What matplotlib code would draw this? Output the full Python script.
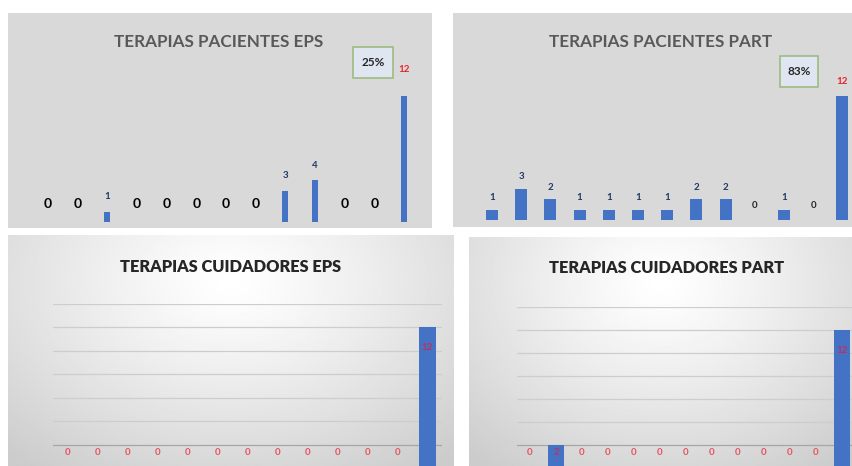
import numpy as np
import matplotlib
matplotlib.use("Agg")
import matplotlib.pyplot as plt
from matplotlib.patches import Rectangle

# Data
posiciones = list(range(13))
pacientes_eps = [0, 0, 1, 0, 0, 0, 0, 0, 3, 4, 0, 0, 12]
pacientes_part = [1, 3, 2, 1, 1, 1, 1, 2, 2, 0, 1, 0, 12]
cuidadores_eps = [0, 0, 0, 0, 0, 0, 0, 0, 0, 0, 0, 0, 12]
cuidadores_part = [0, 2, 0, 0, 0, 0, 0, 0, 0, 0, 0, 0, 12]
titulos = ["TERAPIAS PACIENTES EPS", "TERAPIAS PACIENTES PART",
           "TERAPIAS CUIDADORES EPS", "TERAPIAS CUIDADORES PART"]
porcentajes = ["25%", "83%"]

W, H = 853, 466
FONT = ["Lato", "DejaVu Sans"]
BLUE = "#4472c4"
NAVY = "#1f3864"

fig = plt.figure(figsize=(W / 100, H / 100), dpi=100)
fig.patch.set_facecolor("white")


def rect(x0, y0, x1, y1):
    # pixel box (top-left origin) -> figure fraction
    return [x0 / W, 1 - y1 / H, (x1 - x0) / W, (y1 - y0) / H]


def bg_axes(box, color=None, gradient=False):
    ax = fig.add_axes(rect(*box))
    ax.set_xlim(0, 1)
    ax.set_ylim(0, 1)
    ax.axis("off")
    if gradient:
        yy, xx = np.mgrid[0:1:200j, 0:1:300j]
        d = np.sqrt(((xx - 0.5) / 0.75) ** 2 + ((yy - 0.2) / 1.0) ** 2)
        g = 1.0 - 0.2 * np.clip(d, 0, 1) ** 1.2
        ax.imshow(g, cmap="gray", vmin=0, vmax=1, extent=[0, 1, 0, 1],
                  aspect="auto", origin="upper", zorder=0)
    else:
        ax.add_patch(Rectangle((0, 0), 1, 1, color=color, zorder=0))
    return ax


def data_axes(box, ylim):
    ax = fig.add_axes(rect(*box))
    ax.patch.set_alpha(0)
    ax.set_xlim(-0.5, 12.5)
    ax.set_ylim(*ylim)
    for s in ax.spines.values():
        s.set_visible(False)
    ax.set_xticks([])
    ax.set_yticks([])
    return ax


def pct_box(ax, x, y, w, h, text):
    ax.add_patch(Rectangle((x, y), w, h, facecolor="#dfe6f1",
                           edgecolor="#9fbb7f", linewidth=1.2, zorder=2))
    ax.text(x + w / 2, y + h / 2, text, ha="center", va="center",
            fontsize=8.5, fontweight="bold", color="#262626",
            family=FONT, zorder=3)


# ---- Panel 1: pacientes EPS ----
bg1 = bg_axes((8, 13, 432, 228), color="#d9d9d9")
bg1.text((219 - 8) / 424, 1 - 29 / 215, titulos[0], ha="center", va="center",
         fontsize=12.3, fontweight="bold", color="#595959", family=FONT)
pct_box(bg1, (353 - 8) / 424, 1 - (78 - 13) / 215, 40 / 424, 31 / 215,
        porcentajes[0])

ax1 = data_axes((33.2, 75, 418.8, 222), (0, 14))
ax1.bar(posiciones, pacientes_eps, width=0.2, color=BLUE)
for x, v in zip(posiciones, pacientes_eps):
    if v == 0:
        ax1.annotate("0", (x, 0), xytext=(0, 18), textcoords="offset pixels",
                     ha="center", va="center", fontsize=10,
                     fontweight="bold", color="black", family=FONT)
    elif v == max(pacientes_eps):
        ax1.annotate(str(v), (x, v), xytext=(0, 27),
                     textcoords="offset pixels", ha="center", va="center",
                     fontsize=7, fontweight="bold", color="#e8242b",
                     family=FONT)
    else:
        ax1.annotate(str(v), (x, v), xytext=(0, 15),
                     textcoords="offset pixels", ha="center", va="center",
                     fontsize=7, fontweight="bold", color=NAVY, family=FONT)

# ---- Panel 2: pacientes PART ----
bg2 = bg_axes((453, 13, 853, 227), color="#d9d9d9")
bg2.text((661 - 453) / 400, 1 - 29 / 214, titulos[1], ha="center",
         va="center", fontsize=12.3, fontweight="bold", color="#595959",
         family=FONT)
pct_box(bg2, (780 - 453) / 400, 1 - (87 - 13) / 214, 38 / 400, 31 / 214,
        porcentajes[1])

ax2 = data_axes((477.4, 75.3, 857, 220), (0, 14))
ax2.bar(posiciones, pacientes_part, width=0.41, color=BLUE)
for x, v in zip(posiciones, pacientes_part):
    if v == 0:
        ax2.annotate("0", (x, 0), xytext=(0, 15), textcoords="offset pixels",
                     ha="center", va="center", fontsize=7,
                     fontweight="bold", color="#262626", family=FONT)
    elif v == max(pacientes_part):
        ax2.annotate(str(v), (x, v), xytext=(0, 14),
                     textcoords="offset pixels", ha="center", va="center",
                     fontsize=7, fontweight="bold", color="#e8242b",
                     family=FONT)
    else:
        ax2.annotate(str(v), (x, v), xytext=(0, 12),
                     textcoords="offset pixels", ha="center", va="center",
                     fontsize=7, fontweight="bold", color=NAVY, family=FONT)


# ---- Bottom panels: cuidadores ----
def cuidadores_panel(bg_box, title_xy, ax_box, valores, titulo, bw):
    bg = bg_axes(bg_box, gradient=True)
    bw_px = bg_box[2] - bg_box[0]
    bh_px = bg_box[3] - bg_box[1]
    bg.text((title_xy[0] - bg_box[0]) / bw_px,
            1 - (title_xy[1] - bg_box[1]) / bh_px, titulo, ha="center",
            va="center", fontsize=11.8, fontweight="heavy", color="#262626",
            family=FONT)
    ax = data_axes(ax_box, (0, 14))
    for yv in range(2, 15, 2):
        ax.axhline(yv, color="#a6a6a6" if yv == 2 else "#cdcdcd",
                   linewidth=0.9, zorder=1)
    ax.bar(posiciones, valores, width=bw, color=BLUE, zorder=2)
    for x, v in zip(posiciones, valores):
        if v == 0:
            ax.annotate("0", (x, 0), xytext=(0, 16),
                        textcoords="offset pixels", ha="center", va="center",
                        fontsize=7, fontweight="bold", color="#e4535f",
                        family=FONT, zorder=3)
        else:
            ax.annotate(str(v), (x, v), xytext=(0, -20 if v > 5 else -7),
                        textcoords="offset pixels", ha="center", va="center",
                        fontsize=7, fontweight="bold", color="#c2305a",
                        family=FONT, zorder=3)
    return ax


cuidadores_panel((8, 235, 454, 466), (231, 267), (53, 303.5, 442, 468),
                 cuidadores_eps, titulos[2], 0.57)
cuidadores_panel((469, 237, 853, 466), (667, 268), (517, 307, 855, 468),
                 cuidadores_part, titulos[3], 0.58)

fig.savefig("out.png", dpi=100, facecolor=fig.get_facecolor())
